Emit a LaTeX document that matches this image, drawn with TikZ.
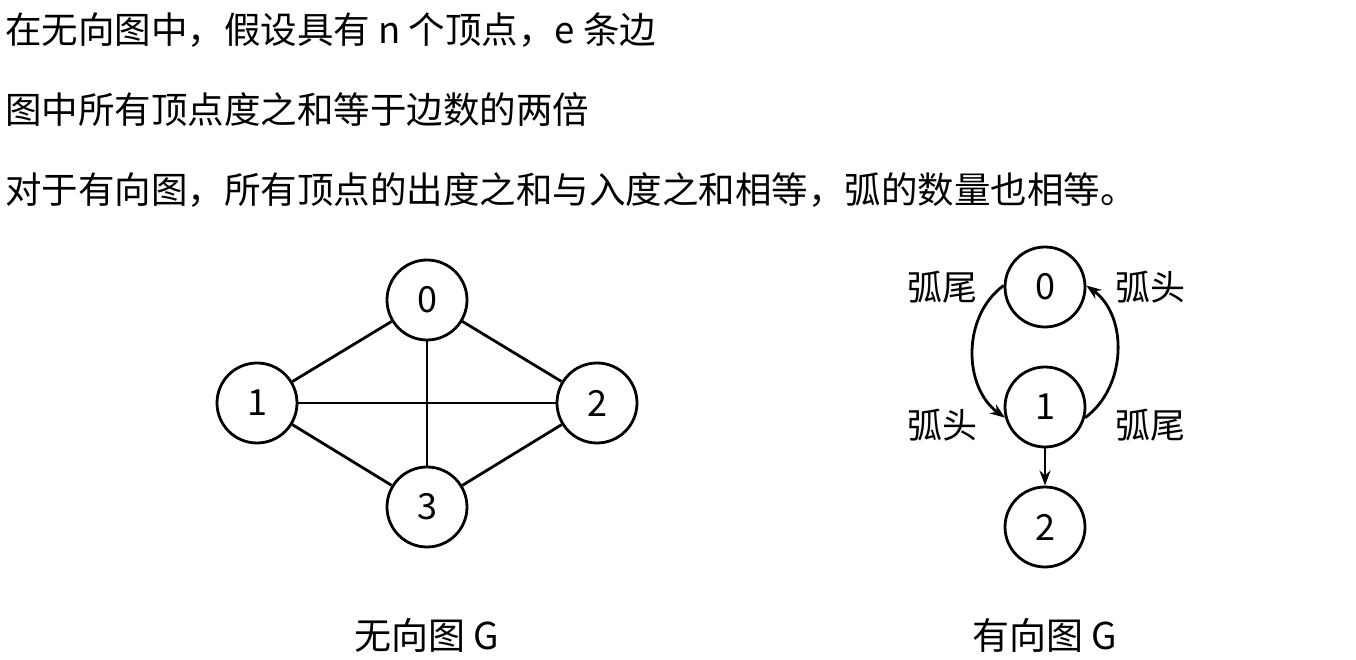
\documentclass[tikz,border=0pt]{standalone}
\usepackage{fontspec}
\setmainfont{Noto Sans CJK SC}
\usetikzlibrary{arrows.meta}
\tikzset{
  vtx/.style={circle, draw, line width=2.8pt, minimum size=80pt, inner sep=0pt, font=\fontsize{36}{40}\selectfont},
  lnk/.style={line width=2.8pt},
  darc/.style={line width=2.8pt, -{Stealth[length=15pt,width=11pt]}},
  txt/.style={anchor=west, inner sep=0pt, font=\fontsize{36.5}{44}\selectfont},
  lbl/.style={inner sep=0pt, font=\fontsize{35}{40}\selectfont},
  captxt/.style={inner sep=0pt, font=\fontsize{37}{44}\selectfont}
}
\begin{document}
\begin{tikzpicture}[x=1pt,y=1pt]
\useasboundingbox (0,0) rectangle (1356,660);
\node[txt] (t1) at (5,630) {在无向图中，假设具有 n 个顶点，e 条边};
\node[txt] (t2) at (5,550) {图中所有顶点度之和等于边数的两倍};
\node[txt] (t3) at (5,470) {对于有向图，所有顶点的出度之和与入度之和相等，弧的数量也相等。};
% undirected
\node[vtx] (n0) at (427,360) {0};
\node[vtx] (n1) at (257,257) {1};
\node[vtx] (n2) at (597,257) {2};
\node[vtx] (n3) at (427,153) {3};
\draw[lnk] (n1) -- (n0);
\draw[lnk] (n0) -- (n2);
\draw[lnk] (n1) -- (n3);
\draw[lnk] (n3) -- (n2);
\draw[lnk] (n1) -- (n2);
\draw[lnk] (n0) -- (n3);
\node[captxt] (c1) at (427,25) {无向图 G};
% directed
\node[vtx] (d0) at (1045,373) {0};
\node[vtx] (d1) at (1045,253) {1};
\node[vtx] (d2) at (1045,133) {2};
\draw[darc] (d0.178) to[out=216,in=144] (d1.195);
\draw[darc] (d1.345) to[out=36,in=-36] (d0.2);
\draw[darc] (d1) -- (d2);
\node[lbl] (l1) at (942,373) {弧尾};
\node[lbl] (l2) at (1150,373) {弧头};
\node[lbl] (l3) at (942,235) {弧头};
\node[lbl] (l4) at (1150,235) {弧尾};
\node[captxt] (c2) at (1045,25) {有向图 G};
\end{tikzpicture}
\end{document}
